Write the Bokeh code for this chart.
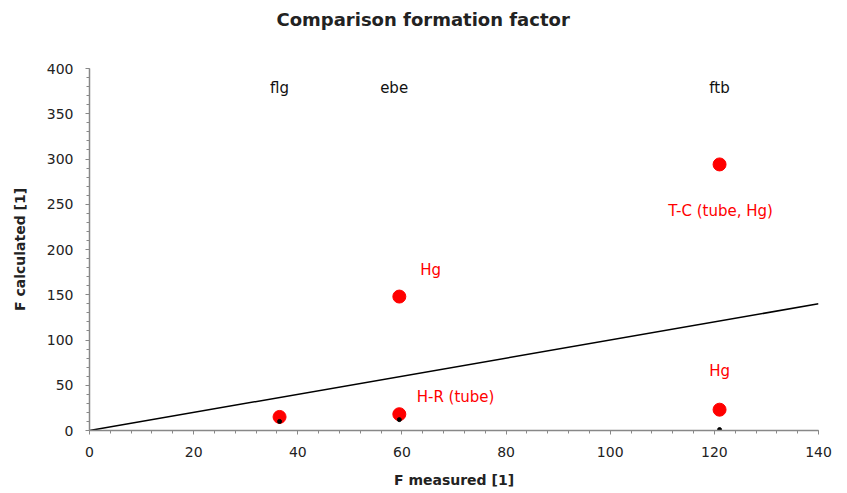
from bokeh.plotting import figure
from bokeh.models import Range1d, Title
from bokeh.core.properties import value
from bokeh.embed import file_html
from bokeh.resources import INLINE

# Data
red_x = [36.5, 59.5, 121.0, 59.5, 121.0]
red_y = [15, 18, 23, 148, 294]
black_x = [36.5, 59.5, 121.0]
black_y = [10, 12, 1]
line_x = [0, 140]
line_y = [0, 140]

site_names = ["flg", "ebe", "ftb"]
site_x = [36.5, 58.5, 121.0]
site_y = [379, 379, 379]

red_labels = ["Hg", "T-C (tube, Hg)", "H-R (tube)", "Hg"]
red_lab_x = [65.5, 121.2, 70.3, 121.0]
red_lab_y = [177, 243, 37, 66]

title_text = "Comparison formation factor"

FONT = "DejaVu Sans"

p = figure(width=847, height=493, output_backend="svg", toolbar_location=None,
           x_range=Range1d(0, 140), y_range=Range1d(0, 400),
           min_border_left=89, min_border_right=29, min_border_top=68, min_border_bottom=63)
p.outline_line_color = None
p.xgrid.visible = False
p.ygrid.visible = False

spacer = Title(text=" ", standoff=18, text_font=FONT, text_font_size="14px")
p.add_layout(spacer, "above")
t = Title(text=title_text, align="left", offset=187, standoff=6,
          text_font=FONT, text_font_size="18px", text_font_style="bold", text_color="#222222")
p.add_layout(t, "above")

p.line(line_x, line_y, line_color="black", line_width=1.5)

p.scatter(red_x, red_y, size=13, fill_color="red", line_color="red")
p.scatter(black_x, black_y, size=4, fill_color="black", line_color="black")

p.text(site_x, site_y, text=site_names, text_font=value(FONT), text_font_size="15px",
       text_align="center", text_baseline="middle", text_color="#111111")
p.text(red_lab_x, red_lab_y, text=red_labels, text_font=value(FONT), text_font_size="15px",
       text_align="center", text_baseline="middle", text_color="red")

for ax in (p.xaxis[0], p.yaxis[0]):
    ax.axis_line_color = "#888888"
    ax.axis_line_width = 1.5
    ax.major_tick_line_color = "#888888"
    ax.minor_tick_line_color = "#888888"
    ax.major_tick_out = 4
    ax.major_tick_in = 0
    ax.minor_tick_out = 3
    ax.minor_tick_in = 0
    ax.major_label_text_font = FONT
    ax.major_label_text_font_size = "14px"
    ax.major_label_text_color = "#222222"
    ax.axis_label_text_font = FONT
    ax.axis_label_text_font_size = "14px"
    ax.axis_label_text_font_style = "bold"
    ax.axis_label_text_color = "#222222"

p.xaxis.ticker.desired_num_ticks = 8
p.xaxis[0].ticker.num_minor_ticks = 5
p.yaxis[0].ticker.num_minor_ticks = 5
p.xaxis.axis_label = "F measured [1]"
p.yaxis.axis_label = "F calculated [1]"
p.xaxis.major_label_standoff = 12
p.yaxis.major_label_standoff = 12
p.xaxis.axis_label_standoff = 12
p.yaxis.axis_label_standoff = 16

open("out.html", "w").write(file_html(p, INLINE))
